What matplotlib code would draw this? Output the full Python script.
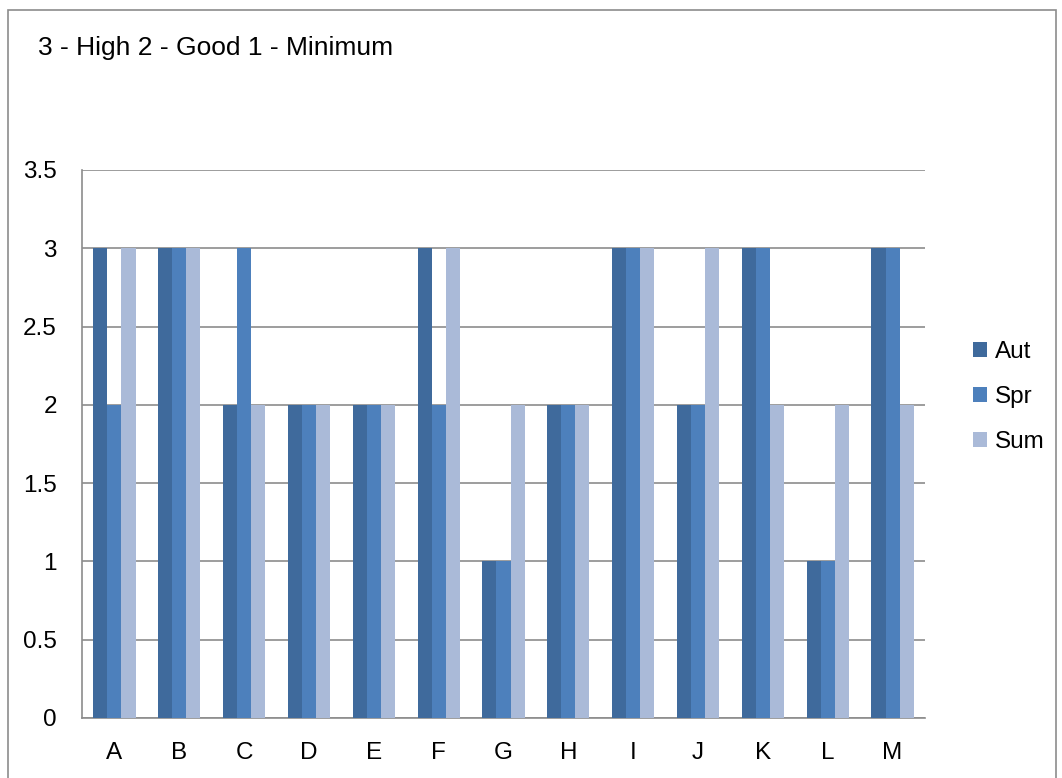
import matplotlib.pyplot as plt
import numpy as np
from matplotlib.patches import Rectangle

categories = ["A", "B", "C", "D", "E", "F", "G", "H", "I", "J", "K", "L", "M"]
aut = [3, 3, 2, 2, 2, 3, 1, 2, 3, 2, 3, 1, 3]
spr = [2, 3, 3, 2, 2, 2, 1, 2, 3, 2, 3, 1, 3]
sum_ = [3, 3, 2, 2, 2, 3, 2, 2, 3, 3, 2, 2, 2]
series = [("Aut", aut, "#3F6A9C"), ("Spr", spr, "#4D80BC"), ("Sum", sum_, "#AABAD8")]

plt.rcParams["font.family"] = ["Liberation Sans", "DejaVu Sans"]

W, H = 1062, 778
fig = plt.figure(figsize=(W / 100, H / 100), dpi=100)
fig.patch.set_facecolor("white")

# outer chart frame
fig.patches.append(Rectangle((8 / W, -0.05), (1056 - 8) / W, (H - 10) / H + 0.05,
                             transform=fig.transFigure, fill=False,
                             edgecolor="#8C8C8C", linewidth=1.2))

ax = fig.add_axes([82 / W, 1 - 718 / H, (925 - 82) / W, (718 - 170) / H])

x = np.arange(len(categories))
bw = 0.217
for i, (name, vals, col) in enumerate(series):
    ax.bar(x + (i - 1) * bw, vals, width=bw, color=col, label=name, zorder=3)

ax.set_xlim(-0.5, len(categories) - 0.5)
ax.set_ylim(0, 3.5)
ax.set_yticks(np.arange(0, 3.51, 0.5))
ax.set_yticklabels(["0", "0.5", "1", "1.5", "2", "2.5", "3", "3.5"])
ax.set_xticks(x)
ax.set_xticklabels(categories)
ax.tick_params(axis="both", length=0, labelsize=17.5, colors="black")
ax.tick_params(axis="y", pad=18)
ax.tick_params(axis="x", pad=17)
ax.grid(axis="y", color="#8C8C8C", linewidth=1.2, zorder=0)
for s in ("top", "right"):
    ax.spines[s].set_visible(False)
for s in ("left", "bottom"):
    ax.spines[s].set_color("#8C8C8C")
    ax.spines[s].set_linewidth(1.2)

fig.text(38 / W, 1 - 48 / H, "3 - High 2 - Good 1 - Minimum", fontsize=19,
         va="center", ha="left")

leg = fig.legend(loc="center left", bbox_to_anchor=(951 / W, 1 - 397 / H),
                 frameon=False, fontsize=17.5, handlelength=0.6, handleheight=0.6,
                 handletextpad=0.3, labelspacing=0.95)

fig.savefig("out.png", dpi=100)
